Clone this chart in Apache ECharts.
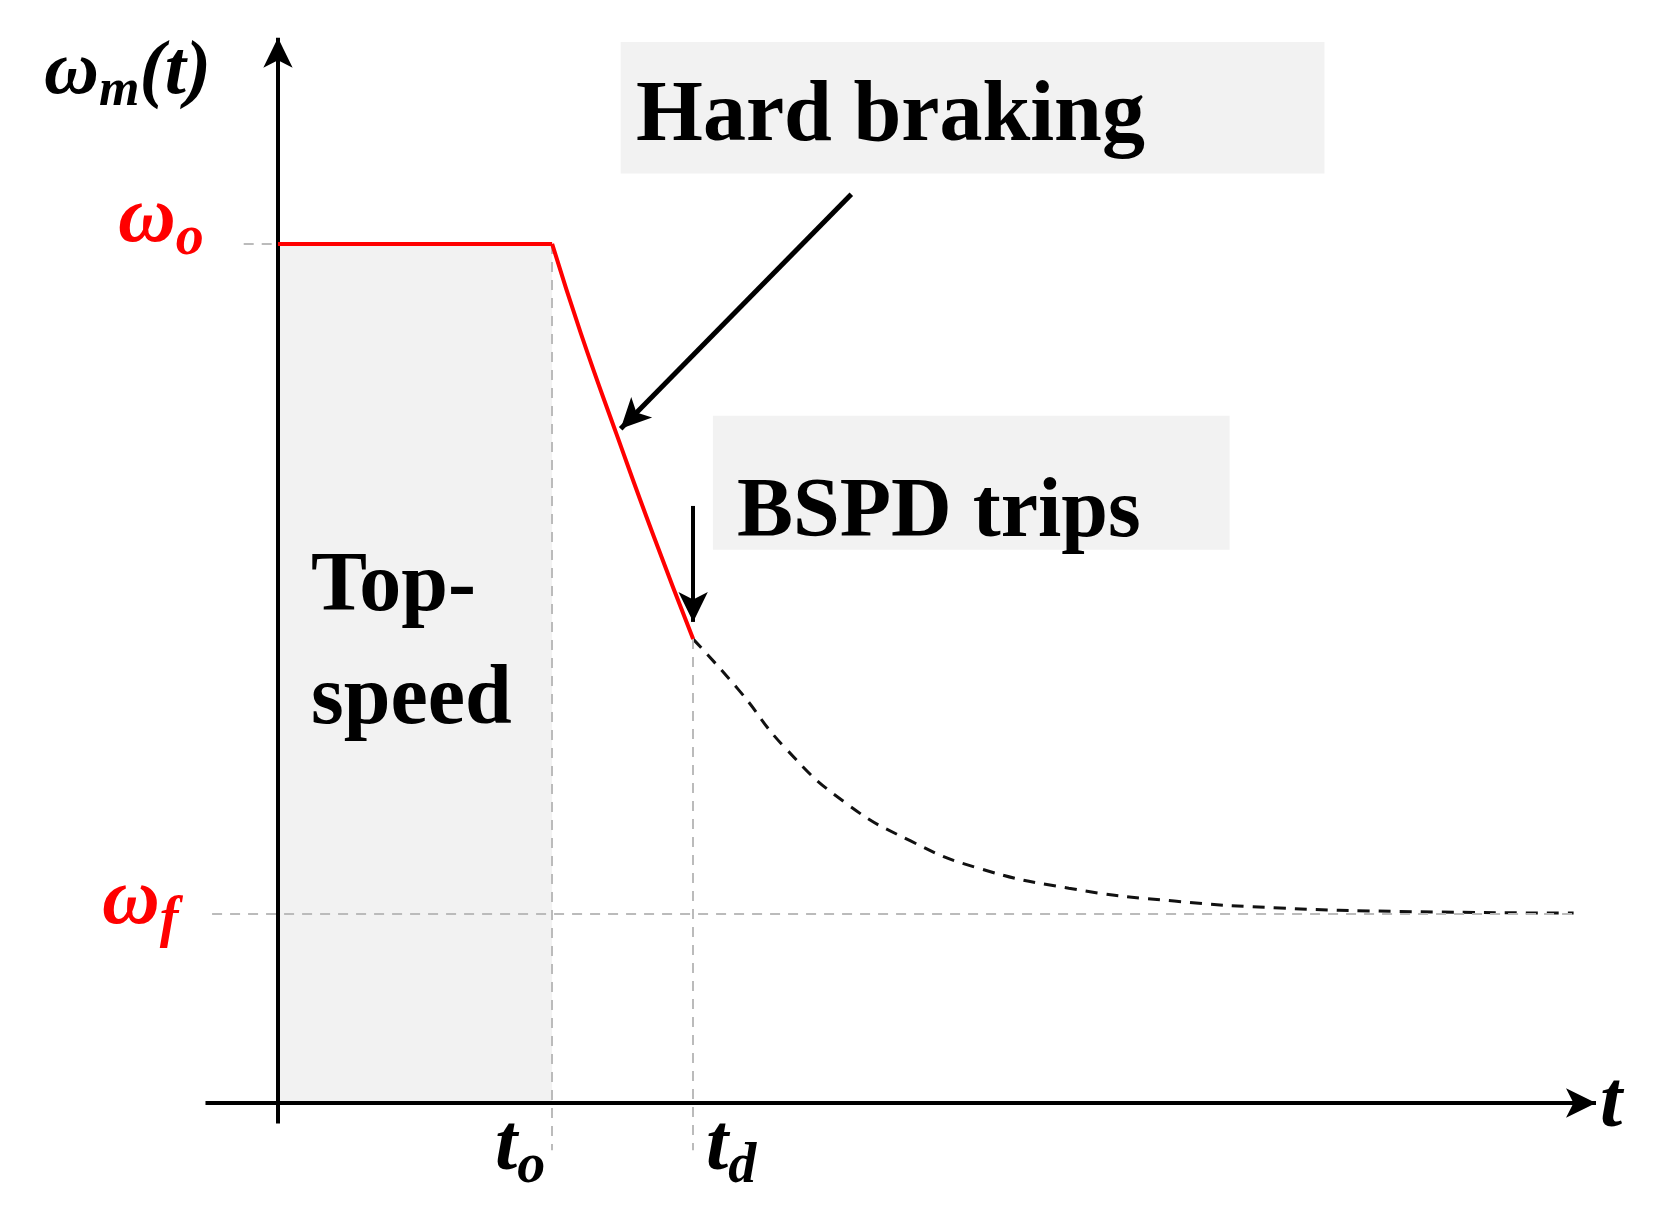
<!DOCTYPE html><html><head><meta charset="utf-8"><script src="https://cdn.jsdelivr.net/npm/echarts@6/dist/echarts.min.js"></script></head><body style="margin:0;background:#fff"><div id="c" style="width:1654px;height:1227px"></div><script>
const brakeT=[2.08,2.3,2.57,2.85,3.15];
const brakeW=[1,0.895,0.778,0.66,0.54];
const decayT=[3.15,3.5,3.85,4.3,4.8,5.3,6,6.8,7.6,8.5,9.83];
const decayW=[0.54,0.48,0.413,0.35,0.305,0.274,0.25,0.235,0.227,0.223,0.221];
const topT=[0,2.08];const topW=[1,1];
const t0=2.08,td=3.15,wo=1,wf=0.22;
const zip=(a,b)=>a.map((v,i)=>[v,b[i]]);
const F='"Liberation Serif",serif';
const gdash={color:'#bbb',type:[10,8],width:2};
const ml=(c1,c2,style,arrow)=>[{coord:c1,lineStyle:style,symbol:'none'},{coord:c2,symbol:arrow?'arrow':'none'}];
const c=echarts.init(document.getElementById('c'));
c.setOption({animation:false,
grid:{left:0,right:0,top:0,bottom:0},
xAxis:{type:'value',min:-2.109,max:10.44,show:false},
yAxis:{type:'value',min:-0.1444,max:1.284,show:false},
series:[
{type:'line',data:zip(topT,topW),symbol:'none',lineStyle:{color:'#f00',width:4},z:5,
 markArea:{silent:true,itemStyle:{color:'#f2f2f2'},data:[
  [{coord:[0,0]},{coord:[t0,wo]}],
  [{coord:[2.6,1.235]},{coord:[7.94,1.082]}],
  [{coord:[3.3,0.8]},{coord:[7.22,0.644]}]]},
 markLine:{silent:true,label:{show:false},symbolSize:[22,30],data:[
  ml([-0.26,wo],[0,wo],gdash),
  ml([-0.5,wf],[9.83,wf],gdash),
  ml([t0,wo],[t0,-0.055],gdash),
  ml([td,decayW[0]],[td,-0.055],gdash),
  ml([-0.55,0],[10.0,0],{color:'#000',width:4,type:'solid'},true),
  ml([0,-0.024],[0,1.24],{color:'#000',width:4,type:'solid'},true),
  ml([4.35,1.058],[2.6,0.785],{color:'#000',width:5,type:'solid'},true),
  ml([td,0.695],[td,0.56],{color:'#000',width:4,type:'solid'},true)]}},
{type:'line',data:zip(brakeT,brakeW),smooth:true,symbol:'none',lineStyle:{color:'#f00',width:4},z:5},
{type:'line',data:zip(decayT,decayW),smooth:true,symbol:'none',lineStyle:{color:'#111',width:3,type:[12,9]},z:4}
],
graphic:[
 {type:'text',left:636,top:75,z:100,style:{text:'Hard braking',font:'bold 86px '+F,fill:'#000'}},
 {type:'text',left:737,top:472,z:100,style:{text:'BSPD trips',font:'bold 84px '+F,fill:'#000'}},
 {type:'text',left:311,top:532,z:100,style:{text:'Top-\nspeed',font:'bold 84px '+F,fill:'#000',lineHeight:113}},
 {type:'text',left:118,top:180,style:{rich:{a:{font:'italic bold 80px '+F,fill:'#f00'},s:{font:'italic bold 56px '+F,fill:'#f00',padding:[40,0,0,0]}},text:'{a|ω}{s|o}'}},
 {type:'text',left:102,top:862,style:{rich:{a:{font:'italic bold 80px '+F,fill:'#f00'},s:{font:'italic bold 56px '+F,fill:'#f00',padding:[40,0,0,0]}},text:'{a|ω}{s|f}'}},
 {type:'text',left:44,top:35,style:{rich:{a:{font:'italic bold 76px '+F,fill:'#000'},s:{font:'italic bold 52px '+F,fill:'#000',padding:[38,0,0,0]}},text:'{a|ω}{s|m}{a|(t)}'}},
 {type:'text',left:495,top:1108,style:{rich:{a:{font:'italic bold 80px '+F,fill:'#000'},s:{font:'italic bold 56px '+F,fill:'#000',padding:[40,0,0,0]}},text:'{a|t}{s|o}'}},
 {type:'text',left:706,top:1108,style:{rich:{a:{font:'italic bold 80px '+F,fill:'#000'},s:{font:'italic bold 56px '+F,fill:'#000',padding:[40,0,0,0]}},text:'{a|t}{s|d}'}},
 {type:'text',left:1600,top:1065,style:{text:'t',font:'italic bold 80px '+F,fill:'#000'}}
]});
</script></body></html>
